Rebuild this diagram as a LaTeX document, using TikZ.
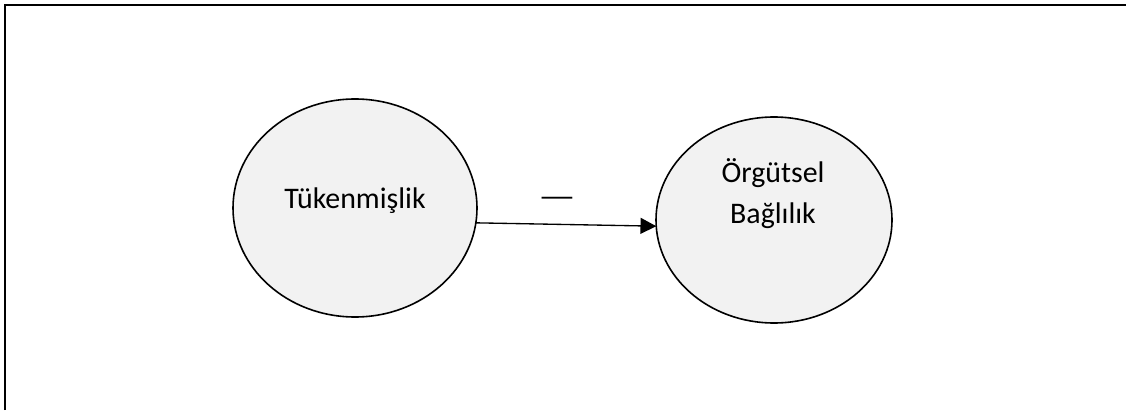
\documentclass[tikz,border=0pt]{standalone}
\usepackage{fontspec}
\setmainfont{Carlito}
\usetikzlibrary{arrows.meta,shapes.geometric}

\begin{document}
\begin{tikzpicture}[x=0.75pt,y=-0.75pt,
    oval/.style={ellipse,draw,line width=1.2pt,fill=black!5,outer sep=0pt},
    lbl/.style={font=\fontsize{22.4pt}{26pt}\selectfont,anchor=base,inner sep=0pt}]
       \useasboundingbox (0,0) rectangle (1126,410);
       % frame, open on the right and at the bottom
       \draw[line width=1.5pt] (5,410) -- (5,5.5) -- (1126,5.5);
       \node[oval,minimum width=183pt,minimum height=163.5pt] (tuk) at (355,208) {};
       \node[oval,minimum width=177pt,minimum height=154.5pt] (org) at (774,220) {};
       \node[lbl] (tukname) at (355,208) {Tükenmişlik};
       \node[lbl] (orgname) at (773,182) {Örgütsel};
       \node[lbl] (orgname2) at (773,223) {Bağlılık};
       \draw[line width=1pt,-{Triangle[length=11.8pt,width=12pt]}] (tuk.-7) -- (org.183);
       \node[lbl] (sign) at (557,206) {\scalebox{1.4}[1]{—}};
      \end{tikzpicture}
\end{document}
